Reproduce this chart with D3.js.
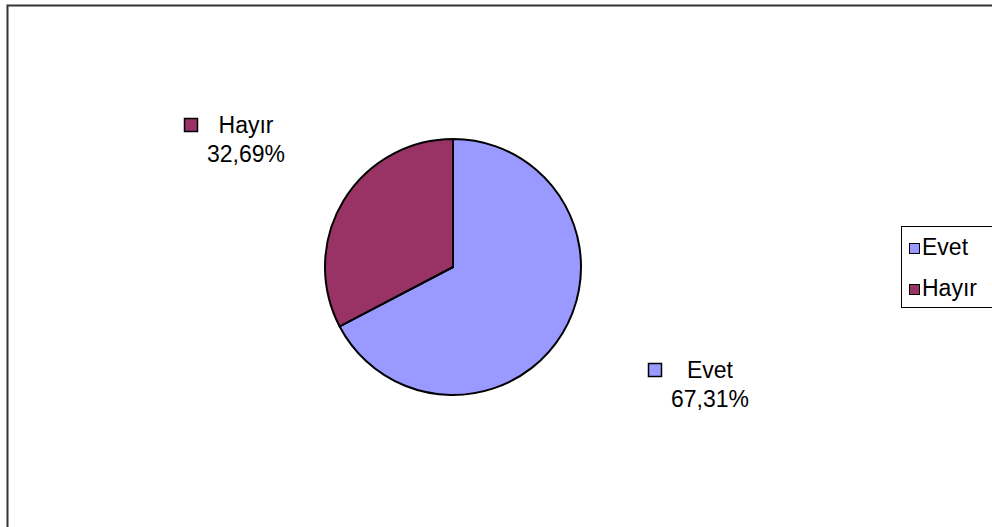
<!DOCTYPE html>
<html>
<head>
<meta charset="utf-8">
<script src="https://cdn.jsdelivr.net/npm/d3@7"></script>
<style>
  html, body { margin: 0; padding: 0; background: #fff; }
  svg { display: block; }
  text { font-family: "Liberation Sans", Arial, sans-serif; fill: #000; }
</style>
</head>
<body>
<svg id="chart" width="992" height="527"></svg>
<script>
// Survey answers and their shares (%)
const categories = ["Evet", "Hayır"];
const values = [67.31, 32.69];
const sliceColors = ["#9999FF", "#993366"];
const valueLabels = ["67,31%", "32,69%"];

const svg = d3.select("#chart");

// Chart area frame (runs past the right and bottom edges)
svg.append("rect")
  .attr("x", 7.5).attr("y", 5.5)
  .attr("width", 1000).attr("height", 540)
  .attr("fill", "#fff")
  .attr("stroke", "#333").attr("stroke-width", 2);

const cx = 453, cy = 267, r = 128;
const color = d3.scaleOrdinal().domain(categories).range(sliceColors);

const pie = d3.pie().sort(null).value(d => d.value);
const arcs = pie(categories.map((c, i) => ({ name: c, value: values[i], label: valueLabels[i] })));
const arc = d3.arc().innerRadius(0).outerRadius(r);

const g = svg.append("g").attr("transform", `translate(${cx},${cy})`);
g.selectAll("path")
  .data(arcs)
  .join("path")
  .attr("d", arc)
  .attr("fill", d => color(d.data.name))
  .attr("stroke", "#000")
  .attr("stroke-width", 2)
  .attr("stroke-linejoin", "round");

// Data labels: name with a colour key, percentage below, placed outside each slice
const fontSize = 23;
const labelPos = {
  "Evet": [710, 378],
  "Hayır": [246, 133]
};
arcs.forEach(d => {
  const [lx, ly] = labelPos[d.data.name];
  const lg = svg.append("g");
  lg.append("text")
    .attr("x", lx).attr("y", ly)
    .attr("text-anchor", "middle")
    .attr("font-size", fontSize)
    .text(d.data.name);
  lg.append("text")
    .attr("x", lx).attr("y", ly + 29)
    .attr("text-anchor", "middle")
    .attr("font-size", fontSize)
    .text(d.data.label);
  lg.append("rect")
    .attr("x", lx - 61.5).attr("y", ly - 14.5)
    .attr("width", 13).attr("height", 13)
    .attr("fill", color(d.data.name))
    .attr("stroke", "#000").attr("stroke-width", 1.5);
});

// Legend
const lgX = 901, lgY = 226;
svg.append("rect")
  .attr("x", lgX + 0.5).attr("y", lgY + 0.5)
  .attr("width", 120).attr("height", 81)
  .attr("fill", "#fff")
  .attr("stroke", "#000").attr("stroke-width", 1);
categories.forEach((c, i) => {
  const y = lgY + 29 + i * 41;
  svg.append("rect")
    .attr("x", lgX + 8.5).attr("y", y - 11.5)
    .attr("width", 10).attr("height", 10)
    .attr("fill", color(c))
    .attr("stroke", "#000").attr("stroke-width", 1);
  svg.append("text")
    .attr("x", lgX + 21).attr("y", y)
    .attr("font-size", fontSize)
    .text(c);
});
</script>
</body>
</html>
